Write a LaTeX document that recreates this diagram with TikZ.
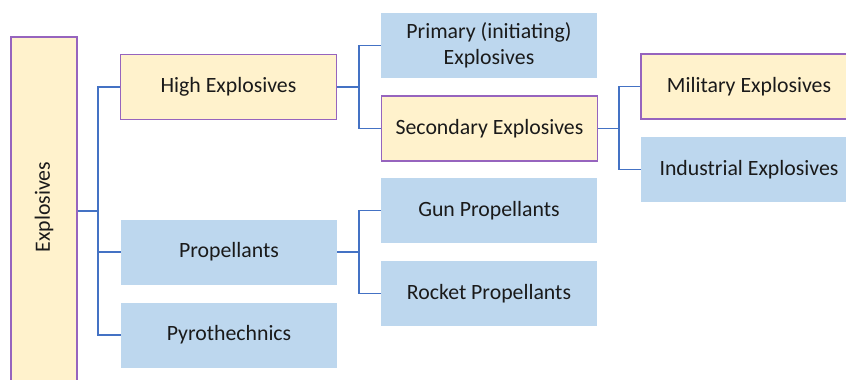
\documentclass[tikz,border=0pt]{standalone}
\usepackage{fontspec}
\setmainfont{Carlito}
\usepackage{graphicx}
\definecolor{yfill}{HTML}{FFF2CC}
\definecolor{pborder}{RGB}{150,100,190}
\definecolor{bfill}{HTML}{BDD7EE}
\definecolor{lblue}{HTML}{4472C4}
\definecolor{txt}{HTML}{1A1A1A}
\tikzset{
  yb/.style={draw=pborder, line width=1.4pt, fill=yfill, minimum width=216pt, minimum height=65pt, inner sep=0pt, text=txt, font=\fontsize{21.8}{26}\selectfont, align=center},
  bb/.style={fill=bfill, minimum width=216pt, minimum height=65pt, inner sep=0pt, text=txt, font=\fontsize{21.8}{26}\selectfont, align=center},
  conn/.style={draw=lblue, line width=1.3pt}
}
\begin{document}
\begin{tikzpicture}[x=1pt,y=-1pt]
\useasboundingbox (0,0) rectangle (846,380);
\clip (0,0) rectangle (846,380);
\node[yb, minimum width=66pt, minimum height=348pt] (root) at (44,211) {\rotatebox{90}{\raisebox{0pt}{\hspace*{8pt}Explosives}}};
\node[yb] (he) at (228.5,87) {High Explosives};
\node[bb] (prop) at (229,252) {Propellants};
\node[bb] (pyro) at (229,335) {Pyrothechnics};
\node[bb] (prim) at (489,45.5) {Primary (initiating)\\Explosives};
\node[yb] (sec) at (489.5,128.5) {Secondary Explosives};
\node[bb] (gun) at (489,210.5) {Gun Propellants};
\node[bb] (rock) at (489,293.5) {Rocket Propellants};
\node[yb] (mil) at (749,86.5) {Military Explosives};
\node[bb] (ind) at (749,169.5) {Industrial Explosives};
\coordinate (j1) at (98,211);
\coordinate (j2) at (359,87);
\coordinate (j3) at (359,252);
\coordinate (j4) at (619,128.5);
\draw[conn] (root.east |- j1) -- (j1);
\draw[conn] (he.west) -| (j1) |- (pyro.west);
\draw[conn] (j1) |- (prop.west);
\draw[conn] (he.east) -- (j2);
\draw[conn] (prim.west) -| (j2) |- (sec.west);
\draw[conn] (prop.east) -- (j3);
\draw[conn] (gun.west) -| (j3) |- (rock.west);
\draw[conn] (sec.east) -- (j4);
\draw[conn] (mil.west) -| (j4) |- (ind.west);
\end{tikzpicture}
\end{document}
